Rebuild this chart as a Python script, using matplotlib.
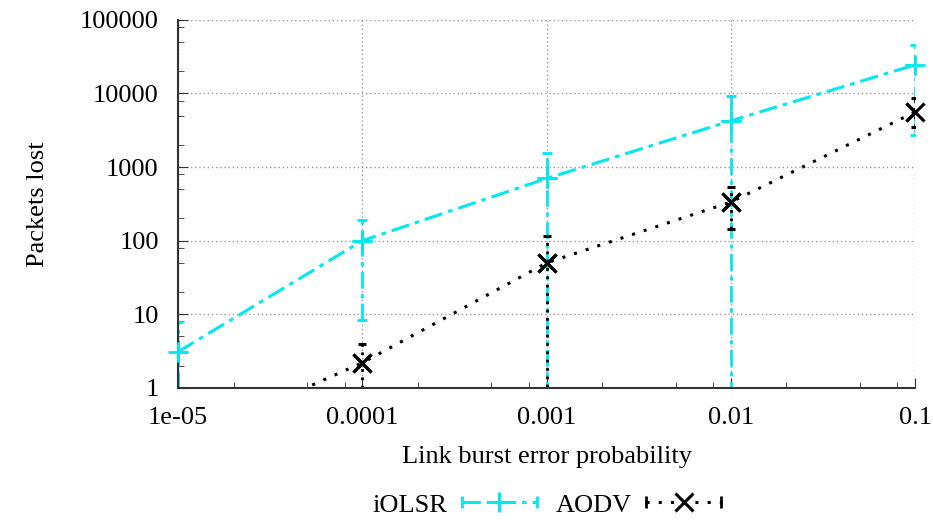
import numpy as np
import matplotlib.pyplot as plt
from matplotlib.lines import Line2D
from matplotlib.legend_handler import HandlerBase
from matplotlib.ticker import LogLocator, FixedLocator, NullFormatter

plt.rcParams['font.family'] = ['Liberation Serif', 'DejaVu Serif']

prob = [1e-5, 1e-4, 1e-3, 1e-2, 1e-1]
prob_labels = ["1e-05", "0.0001", "0.001", "0.01", "0.1"]

# iOLSR: mean, low, high
iolsr = [3.1, 100, 700, 4250, 24500]
iolsr_lo = [1.0, 8.4, 0.1, 0.1, 2750]
iolsr_hi = [7.9, 190, 1550, 9300, 46000]

# AODV
aodv = [0.17, 2.2, 50, 335, 5600]
aodv_lo = [0.1, 1.0, 0.1, 145, 3500]
aodv_hi = [0.3, 4.0, 117, 540, 8700]

cyan = '#00e8f0'
dashdot = (0, (6, 2, 1.5, 2))
dotted = (0, (1, 3))

fig = plt.figure(figsize=(9.33, 5.2), dpi=100)
ax = fig.add_axes([0.191, 0.254, 0.79, 0.708])

def errs(v, lo, hi):
    return [np.array(v) - np.array(lo), np.array(hi) - np.array(v)]

e1 = ax.errorbar(prob, iolsr, yerr=errs(iolsr, iolsr_lo, iolsr_hi), color=cyan,
                 linestyle=dashdot, linewidth=2.2, marker='+', markersize=15,
                 markeredgewidth=2, capsize=3.5, capthick=2, elinewidth=2)
for bar in e1[2]:
    bar.set_linestyle(dashdot)

e2 = ax.errorbar(prob, aodv, yerr=errs(aodv, aodv_lo, aodv_hi), color='black',
                 linestyle=dotted, linewidth=2.2, marker='x', markersize=13,
                 markeredgewidth=2.2, capsize=3, capthick=2, elinewidth=2)
for bar in e2[2]:
    bar.set_linestyle((0, (1, 2)))

# markers drawn unclipped so the ones on the plot edges show in full
ax.plot(prob, np.ma.masked_less(iolsr, 1), linestyle='none', marker='+', markersize=15,
        markeredgewidth=2, color=cyan, clip_on=False, zorder=4)
ax.plot(prob, np.ma.masked_less(aodv, 1), linestyle='none', marker='x', markersize=13,
        markeredgewidth=2.2, color='black', clip_on=False, zorder=5)

ax.set_xscale('log')
ax.set_yscale('log')
ax.set_xlim(1e-5, 0.1)
ax.set_ylim(1, 100000)

ax.xaxis.set_major_locator(FixedLocator(prob))
ax.set_xticklabels(prob_labels)
ax.xaxis.set_minor_locator(LogLocator(base=10, subs=(2, 5, 8)))
ax.xaxis.set_minor_formatter(NullFormatter())
ax.yaxis.set_major_locator(FixedLocator([1, 10, 100, 1000, 10000, 100000]))
ax.set_yticklabels(["1", "10", "100", "1000", "10000", "100000"])
ax.yaxis.set_minor_locator(LogLocator(base=10, subs=(2, 5, 8)))
ax.yaxis.set_minor_formatter(NullFormatter())

ax.tick_params(which='both', direction='in', labelsize=19, color='#333333')
ax.tick_params(axis='y', which='major', length=7, pad=14)
ax.tick_params(axis='x', which='major', length=7, pad=14)
ax.tick_params(which='minor', length=4)
ax.spines['top'].set_visible(False)
ax.spines['right'].set_visible(False)
for s in ['left', 'bottom']:
    ax.spines[s].set_linewidth(1.5)
    ax.spines[s].set_color('#333333')

ax.grid(True, which='major', color='#999999', linestyle=(0, (1, 2)), linewidth=1)
ax.set_axisbelow(True)

ax.set_xlabel("Link burst error probability", fontsize=19, labelpad=12)
ax.set_ylabel("Packets lost", fontsize=19, labelpad=22)


# gnuplot-like legend sample: horizontal line with end caps and marker in the middle
class CapHandler(HandlerBase):
    def create_artists(self, legend, orig, xdescent, ydescent, width, height, fontsize, trans):
        y = height / 2 - ydescent
        x0, x1 = -xdescent, width - xdescent
        col, ls, mk, ms = orig
        line = Line2D([x0, x1], [y, y], color=col, linestyle=ls, linewidth=2.2, transform=trans)
        caps = Line2D([x0, x1], [y, y], color=col, linestyle='none', marker='|',
                      markersize=9, markeredgewidth=2, transform=trans)
        mark = Line2D([(x0 + x1) / 2], [y], color=col, linestyle='none', marker=mk,
                      markersize=ms, markeredgewidth=2.2, transform=trans)
        return [line, caps, mark]


h1 = (cyan, dashdot, '+', 15)
h2 = ('black', dotted, 'x', 13)
ax.legend([h1, h2], ['iOLSR', 'AODV'], handler_map={tuple: CapHandler()},
          loc='center', bbox_to_anchor=(0.5, -0.318), ncol=2, markerfirst=False,
          frameon=False, fontsize=19, handlelength=2.85, columnspacing=0.7,
          handletextpad=0.55)

fig.savefig('out.png', dpi=100)
